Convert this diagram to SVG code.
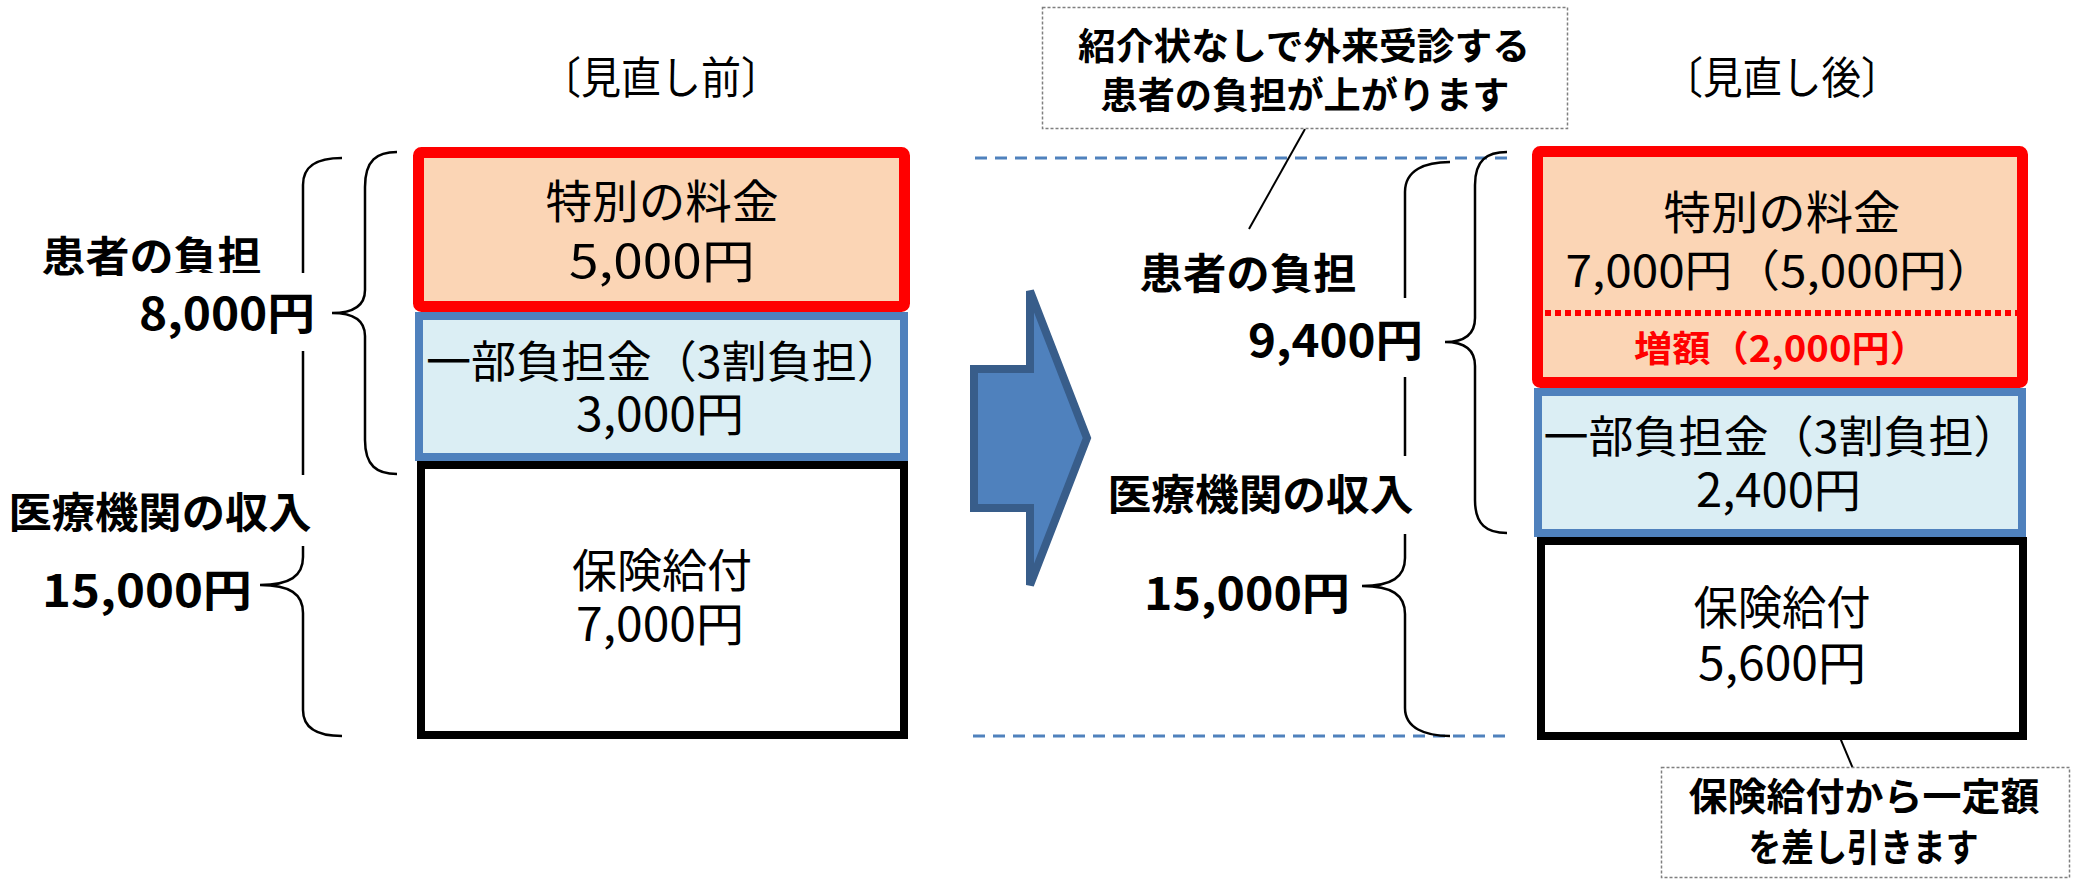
<svg xmlns="http://www.w3.org/2000/svg" width="2084" height="892" viewBox="0 0 2084 892">
<style>
text{font-family:"Noto Sans CJK JP","Noto Sans CJK SC",sans-serif;fill:#000;text-anchor:middle}
.b{font-weight:bold}
.red{fill:#FF0000}
.brace{fill:none;stroke:#000;stroke-width:2.5}
.guide{fill:none;stroke:#4F81BD;stroke-width:3;stroke-dasharray:12 8}
.call{fill:#FFFFFF;stroke:#7F7F7F;stroke-width:1.5;stroke-dasharray:3 2}
.lead{fill:none;stroke:#000;stroke-width:2}
.redbox{fill:#FBD5B5;stroke:#FF0000;stroke-width:11}
.bluebox{fill:#DBEEF4;stroke:#4F81BD;stroke-width:8}
.blackbox{fill:#FFFFFF;stroke:#000;stroke-width:8}
.wb{fill:#FFFFFF}
</style>
<rect width="2084" height="892" fill="#FFFFFF"/>

<g id="guides">
<line class="guide" x1="975" y1="158" x2="1510" y2="158"/>
<line class="guide" x1="973" y1="736" x2="1510" y2="736"/>
</g>

<g id="braces">
<path class="brace" d="M397,152 C377,152 365,160 365,187 L365,290 C365,305 355,313 332,313 C355,313 365,321 365,336 L365,440 C365,466 377,474 397,474"/>
<path class="brace" d="M342,158 C318,158 303,165 303,185 L303,557 C303,576 290,585 260,585 C290,585 303,594 303,613 L303,710 C303,729 318,736 342,736"/>
<path class="brace" d="M1507,152 C1487,152 1475,160 1475,185 L1475,318 C1475,334 1465,342 1445,342 C1465,342 1475,350 1475,366 L1475,500 C1475,525 1487,533 1507,533"/>
<path class="brace" d="M1450,162 C1425,162 1405,170 1405,192 L1405,558 C1405,577 1392,586 1362,586 C1392,586 1405,595 1405,614 L1405,708 C1405,728 1425,736 1450,736"/>
</g>

<g id="arrow">
<polygon points="974,369 1030,369 1030,291 1087,438 1030,585 1030,508 974,508" fill="#4F81BD" stroke="#385D8A" stroke-width="8" stroke-linejoin="miter"/>
</g>

<g id="before-title"><text x="661" y="94" font-size="44" textLength="240" lengthAdjust="spacingAndGlyphs">〔見直し前〕</text></g>

<g id="before-patient-label">
<text class="b" x="151.5" y="272" font-size="42" textLength="220" lengthAdjust="spacingAndGlyphs">患者の負担</text>
<rect class="wb" x="138" y="273" width="180" height="78"/>
<text class="b" x="227" y="330" font-size="44" textLength="176" lengthAdjust="spacingAndGlyphs">8,000円</text>
</g>

<g id="before-income-label">
<rect class="wb" x="5" y="475" width="312" height="71"/>
<text class="b" x="160" y="528" font-size="42" textLength="303" lengthAdjust="spacingAndGlyphs">医療機関の収入</text>
<text class="b" x="147" y="607" font-size="44" textLength="210" lengthAdjust="spacingAndGlyphs">15,000円</text>
</g>

<g id="before-insurance">
<rect class="blackbox" x="421" y="465" width="483" height="270"/>
<text x="662" y="587" font-size="46" textLength="180" lengthAdjust="spacingAndGlyphs">保険給付</text>
<text x="660" y="641" font-size="46" textLength="168" lengthAdjust="spacingAndGlyphs">7,000円</text>
</g>

<g id="before-copay">
<rect class="bluebox" x="419" y="316" width="485" height="141"/>
<text x="664" y="378" font-size="44" textLength="476" lengthAdjust="spacingAndGlyphs">一部負担金（3割負担）</text>
<text x="660" y="431" font-size="46" textLength="168" lengthAdjust="spacingAndGlyphs">3,000円</text>
</g>

<g id="before-special">
<rect class="redbox" x="418.5" y="152.5" width="486" height="154" rx="3"/>
<text x="662" y="218" font-size="46" textLength="233" lengthAdjust="spacingAndGlyphs">特別の料金</text>
<text x="662" y="278" font-size="46" textLength="186" lengthAdjust="spacingAndGlyphs">5,000円</text>
</g>

<g id="connectors">
<line class="lead" x1="1305" y1="129" x2="1249" y2="229"/>
<line class="lead" x1="1825" y1="702" x2="1854" y2="771"/>
</g>

<g id="callout-top">
<rect class="call" x="1042.5" y="7.5" width="525" height="121"/>
<text class="b" x="1304" y="60" font-size="37" textLength="452" lengthAdjust="spacingAndGlyphs">紹介状なしで外来受診する</text>
<text class="b" x="1305" y="109" font-size="37" textLength="409" lengthAdjust="spacingAndGlyphs">患者の負担が上がります</text>
</g>

<g id="after-title"><text x="1782" y="94" font-size="44" textLength="237" lengthAdjust="spacingAndGlyphs">〔見直し後〕</text></g>

<g id="after-patient-label">
<text class="b" x="1248" y="289" font-size="42" textLength="217" lengthAdjust="spacingAndGlyphs">患者の負担</text>
<rect class="wb" x="1244" y="298" width="182" height="79"/>
<text class="b" x="1335.5" y="357" font-size="44" textLength="175" lengthAdjust="spacingAndGlyphs">9,400円</text>
</g>

<g id="after-income-label">
<rect class="wb" x="1104" y="456" width="312" height="78"/>
<text class="b" x="1260.5" y="510" font-size="42" textLength="306" lengthAdjust="spacingAndGlyphs">医療機関の収入</text>
<text class="b" x="1247" y="610" font-size="44" textLength="206" lengthAdjust="spacingAndGlyphs">15,000円</text>
</g>

<g id="after-insurance">
<rect class="blackbox" x="1541" y="541" width="482" height="195"/>
<text x="1782" y="624" font-size="46" textLength="177" lengthAdjust="spacingAndGlyphs">保険給付</text>
<text x="1782" y="680" font-size="46" textLength="168" lengthAdjust="spacingAndGlyphs">5,600円</text>
</g>

<g id="after-copay">
<rect class="bluebox" x="1538" y="392" width="484" height="141"/>
<text x="1781" y="453" font-size="44" textLength="475" lengthAdjust="spacingAndGlyphs">一部負担金（3割負担）</text>
<text x="1778.5" y="507" font-size="46" textLength="165" lengthAdjust="spacingAndGlyphs">2,400円</text>
</g>

<g id="after-special">
<rect class="redbox" x="1537.5" y="151.5" width="485" height="231" rx="3"/>
<line x1="1545" y1="313" x2="2022" y2="313" stroke="#FF0000" stroke-width="6" stroke-dasharray="6 4"/>
<text x="1782" y="229" font-size="46" textLength="237" lengthAdjust="spacingAndGlyphs">特別の料金</text>
<text x="1780" y="287" font-size="44" textLength="429" lengthAdjust="spacingAndGlyphs">7,000円（5,000円）</text>
<text class="b red" x="1781" y="362" font-size="36" textLength="294" lengthAdjust="spacingAndGlyphs">増額（2,000円）</text>
</g>

<g id="callout-bottom">
<rect class="call" x="1661.5" y="767.5" width="408" height="110"/>
<text class="b" x="1864" y="810" font-size="38" textLength="351" lengthAdjust="spacingAndGlyphs">保険給付から一定額</text>
<text class="b" x="1863.5" y="861" font-size="38" textLength="230" lengthAdjust="spacingAndGlyphs">を差し引きます</text>
</g>
</svg>
